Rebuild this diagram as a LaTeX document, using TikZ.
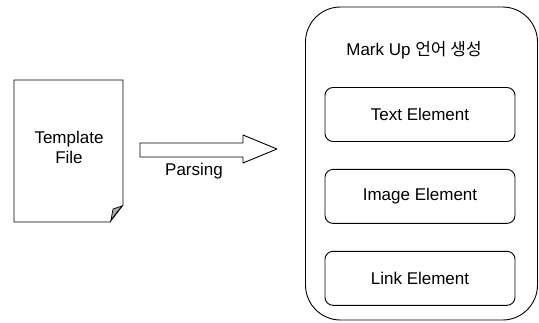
\documentclass[tikz,border=0pt]{standalone}
\usepackage{fontspec}
\setmainfont{Liberation Sans}
\newfontfamily\kor{Noto Sans CJK KR}
\usetikzlibrary{positioning}
\begin{document}
\begin{tikzpicture}
[x=1pt,y=-1pt,line width=0.9pt,line join=round,
font=\fontsize{17}{20}\selectfont,
doc/.style={draw,fill=white},
fold/.style={draw,fill=black!35,line width=0.7pt},
element/.style={draw,rounded corners=8pt,minimum width=190pt,minimum height=54pt,inner sep=0pt},
group/.style={draw,rounded corners=35pt,minimum width=232pt,minimum height=313pt,inner sep=0pt}]
\useasboundingbox (0,0) rectangle (539,322);
% template file
\draw[doc] (14,80) -- (123,80) -- (123,205) -- (110,222) -- (14,222) -- cycle;
\draw[fold] (122,206) -- (113,209) -- (111,220) -- cycle;
\node[align=center] (template) at (69,147) {Template\\File};
% parsing arrow
\coordinate (tail) at (140,150);
\coordinate (tip) at (277,149);
\draw (tail) ++(0,-7) -- (243,143) -- (243,135) -- (tip) -- (243,163) -- (243,157) -- (140,157) -- cycle;
\node (parsing) at (194,171) {Parsing};
% mark up
\node[group] (markup) at (421.5,163.5) {};
\node (title) at (414,50) {Mark Up {\kor 언어 생성}};
\node[element] (text) at (420,114.5) {Text Element};
\node[element,below=27pt of text] (image) {Image Element};
\node[element,below=27pt of image] (link) {Link Element};
\end{tikzpicture}
\end{document}
